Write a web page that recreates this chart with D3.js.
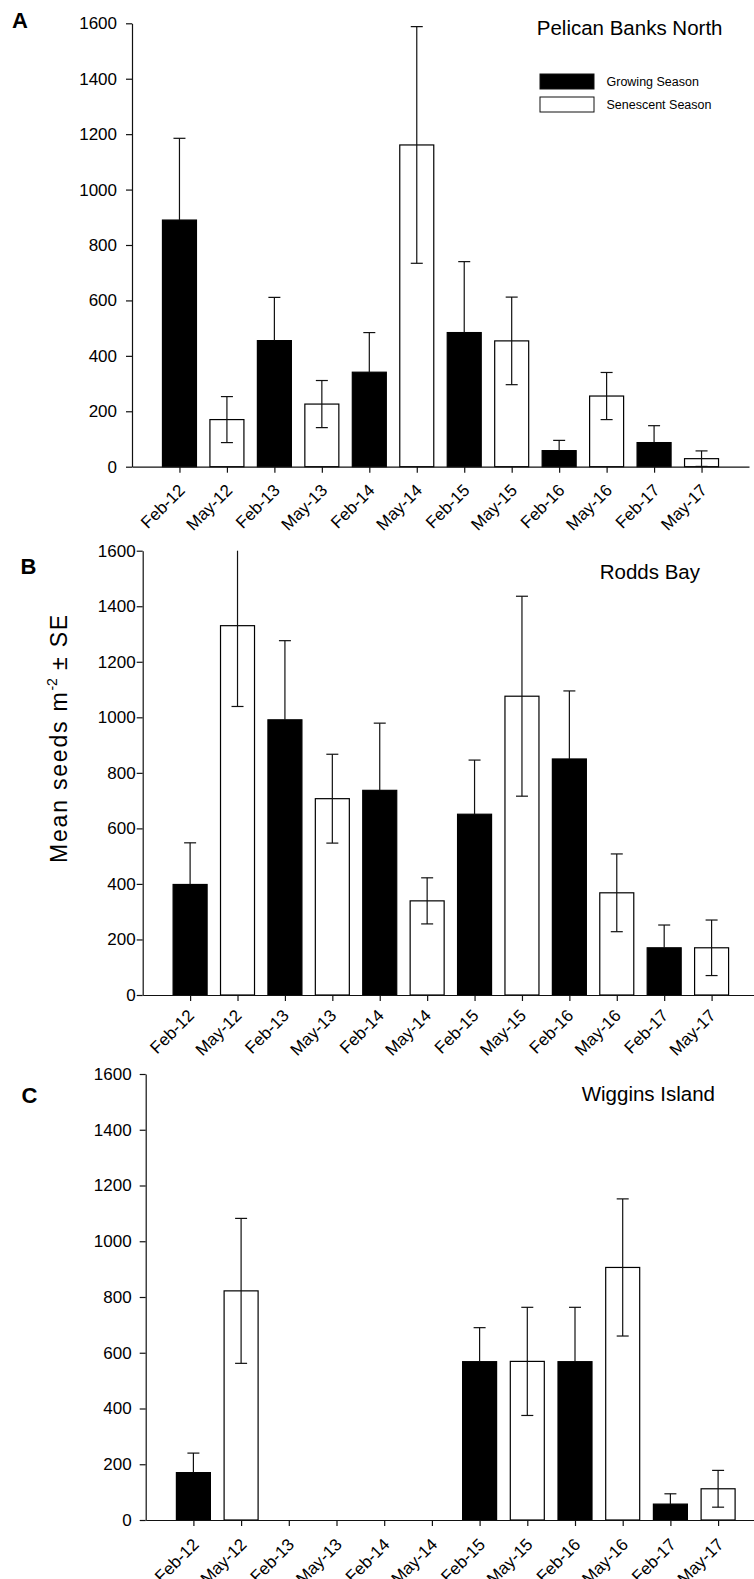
<!DOCTYPE html>
<html>
<head>
<meta charset="utf-8">
<script src="https://cdn.jsdelivr.net/npm/d3@7"></script>
<style>
  body { margin: 0; background: #fff; }
  text { font-family: "Liberation Sans", Arial, sans-serif; fill: #000; }
</style>
</head>
<body>
<svg id="chart" width="754" height="1579"></svg>
<script>
// sampling dates (Feb = growing season, May = senescent season)
var months = ["Feb-12","May-12","Feb-13","May-13","Feb-14","May-14",
              "Feb-15","May-15","Feb-16","May-16","Feb-17","May-17"];
var season = ["growing","senescent","growing","senescent","growing","senescent",
              "growing","senescent","growing","senescent","growing","senescent"];
var yTicks = [0, 200, 400, 600, 800, 1000, 1200, 1400, 1600];

// mean seeds m-2 and SE
var pelicanMean = [890, 170, 455, 226, 341, 1161, 484, 454, 58, 255, 87, 29];
var pelicanSE   = [295,  83, 156,  85, 143,  427, 256, 158, 37,  85, 61, 28];
var roddsMean   = [398, 1330, 991, 707, 737, 339, 651, 1076, 850, 368, 170, 170];
var roddsSE     = [150,  291, 285, 160, 242,  83, 195,  360, 245, 140,  82, 100];
var wigginsMean = [170, 822, 0, 0, 0, 0, 568, 569, 568, 906, 57, 112];
var wigginsSE   = [ 70, 260, 0, 0, 0, 0, 122, 194, 195, 246, 37,  66];

var legendItems = ["Growing Season", "Senescent Season"];

var svg = d3.select("#chart");

function drawPanel(p) {
  var x = d3.scalePoint()
    .domain(months)
    .range([p.x0, p.x1])
    .padding(1);
  var y = d3.scaleLinear()
    .domain([0, 1600])
    .range([p.yBot, p.yTop]);
  var barW = 34;
  var capW = 12;

  var g = svg.append("g");

  var data = months.map(function(m, i) {
    return { month: m, season: season[i], mean: p.mean[i], se: p.se[i] };
  }).filter(function(d) { return d.mean > 0; });

  // bars
  g.selectAll("rect.bar")
    .data(data)
    .enter().append("rect")
    .attr("class", "bar")
    .attr("x", function(d) { return x(d.month) - barW / 2; })
    .attr("y", function(d) { return y(d.mean); })
    .attr("width", barW)
    .attr("height", function(d) { return y(0) - y(d.mean); })
    .attr("fill", function(d) { return d.season == "growing" ? "#000" : "#fff"; })
    .attr("stroke", "#000")
    .attr("stroke-width", 1.2);

  // error bars: the lower half is hidden inside the black bars,
  // the upper one stops at the top of the axis with no cap there
  var eb = g.selectAll("g.err")
    .data(data)
    .enter().append("g")
    .attr("class", "err")
    .attr("stroke", "#111")
    .attr("stroke-width", 1.2);
  eb.append("line")
    .attr("x1", function(d) { return x(d.month); })
    .attr("x2", function(d) { return x(d.month); })
    .attr("y1", function(d) {
      return d.season == "growing" ? y(d.mean) : y(Math.max(0, d.mean - d.se));
    })
    .attr("y2", function(d) { return y(Math.min(1600, d.mean + d.se)); });
  eb.filter(function(d) { return d.mean + d.se <= 1600; })
    .append("line")
    .attr("x1", function(d) { return x(d.month) - capW / 2; })
    .attr("x2", function(d) { return x(d.month) + capW / 2; })
    .attr("y1", function(d) { return y(d.mean + d.se); })
    .attr("y2", function(d) { return y(d.mean + d.se); });
  eb.filter(function(d) { return d.season != "growing" && d.mean - d.se > 0; })
    .append("line")
    .attr("x1", function(d) { return x(d.month) - capW / 2; })
    .attr("x2", function(d) { return x(d.month) + capW / 2; })
    .attr("y1", function(d) { return y(d.mean - d.se); })
    .attr("y2", function(d) { return y(d.mean - d.se); });

  // y axis
  var ya = g.append("g")
    .attr("transform", "translate(" + p.x0 + ",0)")
    .call(d3.axisLeft(y).tickValues(yTicks).tickFormat(d3.format("d"))
      .tickSize(6).tickSizeOuter(0).tickPadding(p.tickPad));
  ya.attr("font-size", 17).attr("font-family", null);
  ya.selectAll("path, line").attr("stroke", "#111").attr("stroke-width", 1.2);

  // x axis
  var xa = g.append("g")
    .attr("transform", "translate(0," + p.yBot + ")")
    .call(d3.axisBottom(x).tickSize(6).tickSizeOuter(0));
  xa.attr("font-size", 17).attr("font-family", null);
  xa.selectAll("path, line").attr("stroke", "#111").attr("stroke-width", 1.2);
  xa.selectAll(".tick text")
    .attr("y", null).attr("dy", null)
    .attr("text-anchor", "end")
    .attr("transform", "translate(" + p.lx + "," + p.ly + ") rotate(-45)");

  // site title
  g.append("text")
    .attr("x", p.titleX).attr("y", p.titleY)
    .attr("text-anchor", "end")
    .attr("font-size", 20.5)
    .text(p.title);

  // panel letter
  g.append("text")
    .attr("x", p.letterX).attr("y", p.letterY)
    .attr("font-size", 22).attr("font-weight", "bold")
    .text(p.letter);
}

drawPanel({ mean: pelicanMean, se: pelicanSE, title: "Pelican Banks North", letter: "A",
  x0: 132, x1: 749, yTop: 23.3, yBot: 466.7, tickPad: 9, lx: 6, ly: 24.6,
  titleX: 722.5, titleY: 34.5, letterX: 12, letterY: 28.3 });
drawPanel({ mean: roddsMean, se: roddsSE, title: "Rodds Bay", letter: "B",
  x0: 142.7, x1: 759, yTop: 550.7, yBot: 995, tickPad: 1, lx: 4.6, ly: 21.6,
  titleX: 700, titleY: 579.3, letterX: 20.5, letterY: 574 });
drawPanel({ mean: wigginsMean, se: wigginsSE, title: "Wiggins Island", letter: "C",
  x0: 145.7, x1: 765.8, yTop: 1074, yBot: 1520, tickPad: 8, lx: 6, ly: 25.5,
  titleX: 715, titleY: 1100.5, letterX: 21.5, letterY: 1103 });

// legend (panel A)
var leg = svg.append("g");
leg.selectAll("rect")
  .data(legendItems)
  .enter().append("rect")
  .attr("x", 540)
  .attr("y", function(d, i) { return 74 + i * 23; })
  .attr("width", 54).attr("height", 15)
  .attr("fill", function(d, i) { return i == 0 ? "#000" : "#fff"; })
  .attr("stroke", "#111").attr("stroke-width", 1);
leg.selectAll("text")
  .data(legendItems)
  .enter().append("text")
  .attr("x", 606.5)
  .attr("y", function(d, i) { return 85.5 + i * 23; })
  .attr("font-size", 12.5)
  .text(function(d) { return d; });

// shared y axis label
var yl = svg.append("text")
  .attr("transform", "translate(67,738) rotate(-90)")
  .attr("text-anchor", "middle")
  .attr("font-size", 23)
  .attr("letter-spacing", 1.8);
yl.append("tspan").text("Mean seeds m");
yl.append("tspan").attr("dy", -10).attr("font-size", 14).attr("letter-spacing", 0).text("-2");
yl.append("tspan").attr("dy", 10).text(" ± SE");
</script>
</body>
</html>
